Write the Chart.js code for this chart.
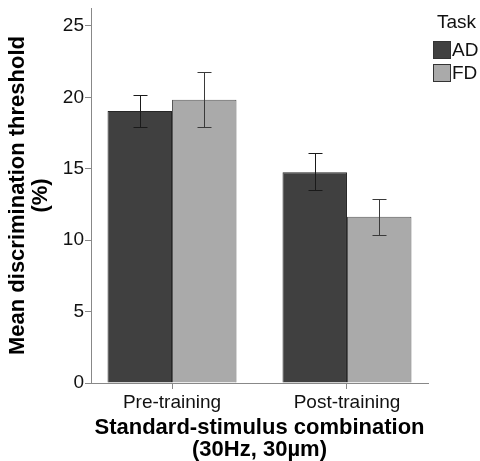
<!DOCTYPE html>
<html>
<head>
<meta charset="utf-8">
<script src="https://cdn.jsdelivr.net/npm/chart.js@4/dist/chart.umd.min.js"></script>
<style>
  html, body { margin: 0; padding: 0; background: #fff; }
  #wrap { width: 480px; height: 461px; position: relative; }
</style>
</head>
<body>
<div id="wrap"><canvas id="chart"></canvas></div>
<script>
// data
var groups = ['Pre-training', 'Post-training'];
var tasks = ['AD', 'FD'];
var adMean = [19.05, 14.75];
var adLow = [17.93, 13.55];
var adHigh = [20.17, 16.08];
var fdMean = [19.84, 11.65];
var fdLow = [17.93, 10.39];
var fdHigh = [21.75, 12.88];
var yTicks = [0, 5, 10, 15, 20, 25];

var FONT = '"Liberation Sans", Arial, sans-serif';

// bars sit on a numeric x axis at 0, 1 so the groups land where the original puts them
function toPoints(values) {
    return values.map(function (v, i) { return { x: i, y: v }; });
}

// error bars on top of each bar
var errorBars = {
    id: 'errorBars',
    afterDatasetsDraw: function (chart) {
        var ctx = chart.ctx;
        var y = chart.scales.y;
        ctx.save();
        ctx.lineWidth = 1;
        chart.data.datasets.forEach(function (ds, i) {
            var meta = chart.getDatasetMeta(i);
            ctx.strokeStyle = ds.errColor;
            meta.data.forEach(function (bar, j) {
                var x = Math.round(bar.x) + 0.5;
                var top = Math.round(y.getPixelForValue(ds.errHigh[j])) + 0.5;
                var bot = Math.round(y.getPixelForValue(ds.errLow[j])) + 0.5;
                ctx.beginPath();
                ctx.moveTo(x, top);
                ctx.lineTo(x, bot);
                ctx.moveTo(x - 7, top);
                ctx.lineTo(x + 7, top);
                ctx.moveTo(x - 7, bot);
                ctx.lineTo(x + 7, bot);
                ctx.stroke();
            });
        });
        ctx.restore();
    }
};

// legend box in the top right corner
var taskLegend = {
    id: 'taskLegend',
    afterDraw: function (chart) {
        var ctx = chart.ctx;
        ctx.save();
        ctx.font = '19px ' + FONT;
        ctx.fillStyle = '#111';
        ctx.textBaseline = 'middle';
        ctx.textAlign = 'left';
        ctx.fillText('Task', 437, 23);
        chart.data.datasets.forEach(function (ds, i) {
            var top = 41 + i * 23;
            ctx.fillStyle = ds.backgroundColor;
            ctx.fillRect(433, top, 18, 18);
            ctx.strokeStyle = '#333';
            ctx.lineWidth = 1;
            ctx.strokeRect(433.5, top + 0.5, 17, 17);
            ctx.fillStyle = '#111';
            ctx.fillText(ds.label, 452, top + 10);
        });
        ctx.restore();
    }
};

new Chart(document.getElementById('chart'), {
    type: 'bar',
    data: {
        datasets: [{
            label: tasks[0],
            data: toPoints(adMean),
            errLow: adLow,
            errHigh: adHigh,
            errColor: '#1a1a1a',
            backgroundColor: '#404040',
            borderColor: '#262626',
            borderWidth: 1
        }, {
            label: tasks[1],
            data: toPoints(fdMean),
            errLow: fdLow,
            errHigh: fdHigh,
            errColor: '#3a3a3a',
            backgroundColor: '#aaaaaa',
            borderColor: '#555555',
            borderWidth: 1
        }]
    },
    options: {
        responsive: true,
        maintainAspectRatio: false,
        animation: false,
        categoryPercentage: 0.737,
        barPercentage: 1,
        layout: { padding: { top: 8, right: 52, left: 0, bottom: 0 } },
        plugins: {
            legend: { display: false },
            tooltip: { enabled: false }
        },
        scales: {
            x: {
                type: 'linear',
                min: -0.463,
                max: 1.463,
                offset: false,
                afterFit: function (s) {
                    s.height = 78;
                    s.paddingLeft = 0;
                    s.paddingRight = 0;
                },
                afterBuildTicks: function (s) {
                    s.ticks = groups.map(function (g, i) { return { value: i }; });
                },
                grid: { display: true, offset: false, drawOnChartArea: false, drawTicks: true, tickLength: 6, color: '#888' },
                border: { color: '#888', width: 1 },
                ticks: {
                    color: '#111',
                    font: { family: FONT, size: 19 },
                    padding: 2,
                    callback: function (v) { return groups[v]; }
                },
                title: {
                    display: true,
                    text: ['Standard-stimulus combination', '(30Hz, 30\u00b5m)'],
                    color: '#000',
                    font: { family: FONT, size: 22, weight: 'bold', lineHeight: 1.0 },
                    padding: { top: 2, bottom: 0 }
                }
            },
            y: {
                min: 0,
                max: 26.26,
                afterFit: function (s) {
                    s.width = 91;
                    s.paddingTop = 0;
                    s.paddingBottom = 0;
                },
                afterBuildTicks: function (s) {
                    s.ticks = yTicks.map(function (v) { return { value: v }; });
                },
                grid: { display: true, drawOnChartArea: false, drawTicks: true, tickLength: 6, color: '#888' },
                border: { color: '#888', width: 1 },
                ticks: { color: '#111', font: { family: FONT, size: 19 }, padding: 1 },
                title: {
                    display: true,
                    text: ['Mean discrimination threshold', '(%)'],
                    color: '#000',
                    font: { family: FONT, size: 22, weight: 'bold', lineHeight: 1.05 },
                    padding: { top: 6, bottom: 0 }
                }
            }
        }
    },
    plugins: [errorBars, taskLegend]
});
</script>
</body>
</html>
